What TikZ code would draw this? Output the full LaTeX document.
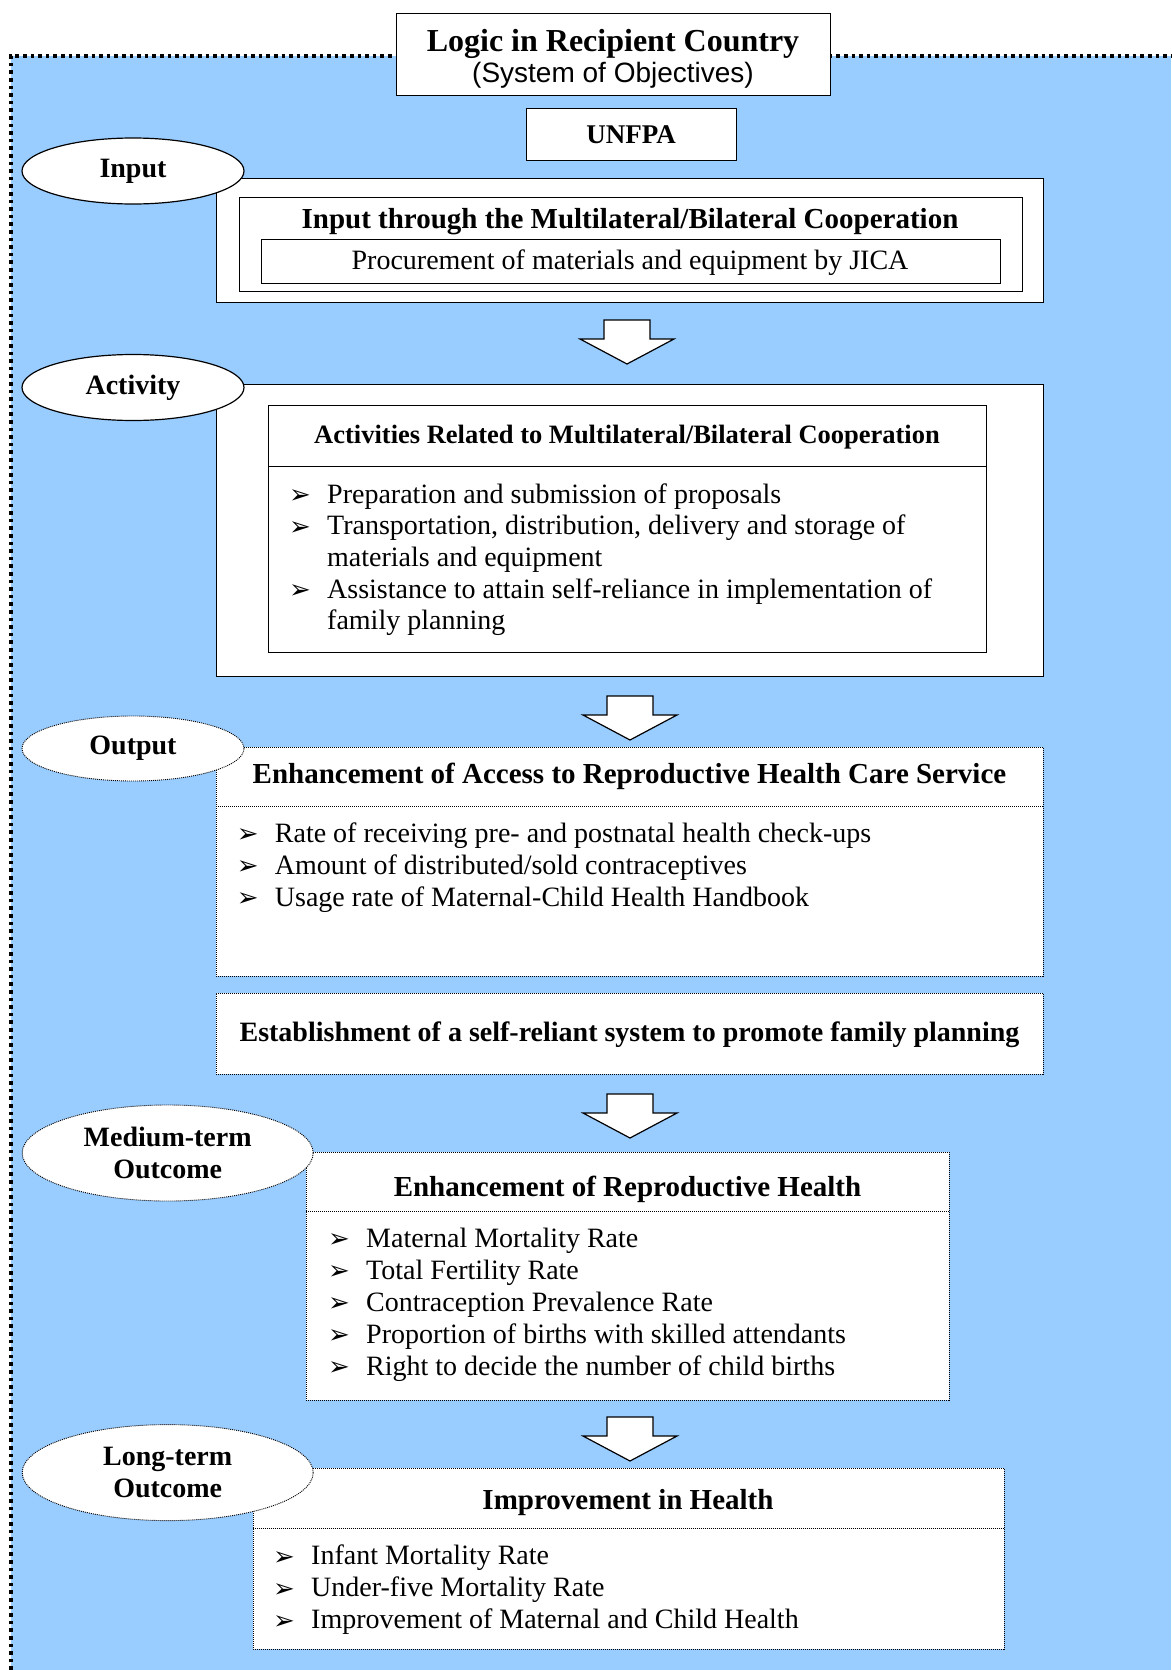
\documentclass[tikz,border=0pt]{standalone}
\usepackage{fontspec}
\setmainfont{Liberation Serif}
\newfontfamily\arialfont{Liberation Sans}
\newfontfamily\symfont{DejaVu Sans}
\usetikzlibrary{shapes.geometric}
\definecolor{bgblue}{RGB}{153,204,255}
\newcommand{\bitem}{\makebox[36pt][l]{\hspace*{-2pt}\fontsize{26}{26}\selectfont\symfont\raisebox{-0.5pt}{➢}}}
\newcommand{\cont}{\hspace*{36pt}}
\tikzset{
  solidbox/.style={draw, fill=white, line width=1.3pt, inner sep=0pt, anchor=north west},
  dotbox/.style={draw, fill=white, line width=0.9pt, dash pattern=on 1pt off 1pt, inner sep=0pt, anchor=north west},
  soloval/.style={ellipse, draw, fill=white, line width=1.2pt, inner sep=0pt, align=center, font=\bfseries\fontsize{28}{32}\selectfont},
  dotoval/.style={soloval, line width=0.9pt, dash pattern=on 1pt off 1pt},
  body/.style={inner sep=0pt, anchor=base west, font=\fontsize{28}{32}\selectfont},
  head/.style={inner sep=0pt, anchor=base, font=\bfseries\fontsize{29}{32}\selectfont},
  divider/.style={line width=1.3pt},
  dotdivider/.style={line width=0.9pt, dash pattern=on 1pt off 1pt},
  blockarrow/.pic={\draw[fill=white, line width=1.2pt] (-23,0) -- (23,0) -- (23,19) -- (47,19) -- (0,44) -- (-47,19) -- (-23,19) -- cycle;},
}
\begin{document}
\begin{tikzpicture}[x=1pt, y=-1pt]
\useasboundingbox (0,0) rectangle (1171,1670);
% background panel
\fill[bgblue] (10.7,56) rectangle (1171,1670);
\draw[line width=3.6pt, dash pattern=on 3.6pt off 4pt] (10.7,1670) -- (10.7,56) -- (1171,56);

% title
\node[solidbox, minimum width=434pt, minimum height=82pt] (title) at (396,13) {};
\node[inner sep=0pt, anchor=base, font=\bfseries\fontsize{32}{36}\selectfont] (titletext) at (613,51.5) {Logic in Recipient Country};
\node[inner sep=0pt, anchor=base, font=\arialfont\fontsize{28}{30}\selectfont] (subtitle) at (613,82.5) {(System of Objectives)};

% UNFPA
\node[solidbox, minimum width=210pt, minimum height=52pt] (unfpa) at (526,108) {};
\node[inner sep=0pt, anchor=base, font=\bfseries\fontsize{27}{30}\selectfont] (unfpatext) at (631,143) {UNFPA};

% Input
\node[solidbox, minimum width=827pt, minimum height=124pt] (inputouter) at (216,178) {};
\node[solidbox, minimum width=783pt, minimum height=94pt] (inputinner) at (239,197) {};
\node[head] (inputhead) at (630,228.4) {Input through the Multilateral/Bilateral Cooperation};
\node[solidbox, minimum width=739pt, minimum height=44pt] (procbox) at (261,239) {};
\node[body, anchor=base] (proctext) at (630,269) {Procurement of materials and equipment by JICA};
\node[soloval, minimum width=222pt, minimum height=66pt] (inputlbl) at (133,171) {Input};

\pic at (627,320) {blockarrow};

% Activity
\node[solidbox, minimum width=827pt, minimum height=292pt] (actouter) at (216,384) {};
\node[solidbox, minimum width=718pt, minimum height=247pt] (actinner) at (268,405) {};
\draw[divider] (268,466.5) -- (986,466.5);
\node[head, font=\bfseries\fontsize{26.5}{30}\selectfont] (acthead) at (627,443) {Activities Related to Multilateral/Bilateral Cooperation};
\node[body] (act1) at (291,503) {\bitem Preparation and submission of proposals};
\node[body] (act2) at (291,534.7) {\bitem Transportation, distribution, delivery and storage of};
\node[body] (act2b) at (291,566.4) {\cont materials and equipment};
\node[body] (act3) at (291,598.1) {\bitem Assistance to attain self-reliance in implementation of};
\node[body] (act3b) at (291,629.8) {\cont family planning};
\node[soloval, minimum width=222pt, minimum height=66pt] (actlbl) at (133,387.5) {Activity};

\pic at (630,696) {blockarrow};

% Output
\node[dotbox, minimum width=827pt, minimum height=229pt] (outbox) at (216,747) {};
\draw[dotdivider] (216,806.6) -- (1043,806.6);
\node[head] (outhead) at (629.5,783.5) {Enhancement of Access to Reproductive Health Care Service};
\node[body] (out1) at (238.7,842) {\bitem Rate of receiving pre- and postnatal health check-ups};
\node[body] (out2) at (238.7,874) {\bitem Amount of distributed/sold contraceptives};
\node[body] (out3) at (238.7,906) {\bitem Usage rate of Maternal-Child Health Handbook};
\node[dotoval, minimum width=222pt, minimum height=65pt] (outlbl) at (133,748.5) {Output};

\node[dotbox, minimum width=827pt, minimum height=81pt] (estbox) at (216,993) {};
\node[head, font=\bfseries\fontsize{28}{32}\selectfont] (esttext) at (629.5,1041.5) {Establishment of a self-reliant system to promote family planning};

\pic at (630,1094) {blockarrow};

% Medium-term
\node[dotbox, minimum width=643pt, minimum height=248pt] (medbox) at (306,1152) {};
\draw[dotdivider] (306,1211.5) -- (949,1211.5);
\node[head] (medhead) at (627.5,1196.5) {Enhancement of Reproductive Health};
\node[body] (med1) at (330,1247) {\bitem Maternal Mortality Rate};
\node[body] (med2) at (330,1279) {\bitem Total Fertility Rate};
\node[body] (med3) at (330,1311) {\bitem Contraception Prevalence Rate};
\node[body] (med4) at (330,1343) {\bitem Proportion of births with skilled attendants};
\node[body] (med5) at (330,1375) {\bitem Right to decide the number of child births};
\node[dotoval, minimum width=291pt, minimum height=96pt] (medlbl) at (167.7,1153) {Medium-term\\Outcome};

\pic at (630,1417) {blockarrow};

% Long-term
\node[dotbox, minimum width=751pt, minimum height=181pt] (longbox) at (252.5,1468) {};
\draw[dotdivider] (252.5,1528) -- (1003.5,1528);
\node[head] (longhead) at (628,1509.5) {Improvement in Health};
\node[body] (long1) at (275,1564.6) {\bitem Infant Mortality Rate};
\node[body] (long2) at (275,1596.6) {\bitem Under-five Mortality Rate};
\node[body] (long3) at (275,1628.6) {\bitem Improvement of Maternal and Child Health};
\node[dotoval, minimum width=291pt, minimum height=96pt] (longlbl) at (167.7,1472.6) {Long-term\\Outcome};
\end{tikzpicture}
\end{document}
